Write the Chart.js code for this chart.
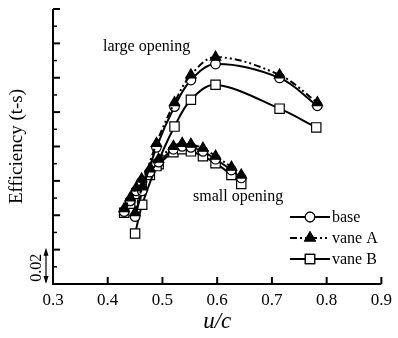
<!DOCTYPE html>
<html>
<head>
<meta charset="utf-8">
<script src="https://cdn.jsdelivr.net/npm/chart.js@4/dist/chart.umd.min.js"></script>
<style>
  html, body { margin: 0; padding: 0; background: #fff; }
  #wrap { width: 398px; height: 338px; }
</style>
</head>
<body>
<div id="wrap"><canvas id="effChart" width="398" height="338"></canvas></div>
<script>
// u/c values
const uLarge = [0.45, 0.463, 0.489, 0.522, 0.552, 0.597, 0.714, 0.783]
const uLargeB = [0.45, 0.463, 0.489, 0.522, 0.552, 0.597, 0.714, 0.781]
const uSmall = [0.430, 0.441, 0.452, 0.462, 0.477, 0.493, 0.520, 0.536, 0.552, 0.574, 0.597, 0.626, 0.644]

// efficiency (relative, 0.02 per major division)
const baseLarge = [0.0392, 0.0542, 0.0795, 0.1032, 0.1187, 0.1280, 0.1199, 0.1037]
const vaneALarge = [0.0415, 0.0565, 0.0818, 0.1055, 0.1216, 0.1320, 0.1216, 0.1055]
const vaneBLarge = [0.0294, 0.0461, 0.0686, 0.0916, 0.1072, 0.1159, 0.1020, 0.0911]

const baseSmall = [0.0421, 0.0484, 0.0542, 0.0594, 0.0651, 0.0709, 0.0784, 0.0801, 0.0795, 0.0772, 0.0726, 0.0663, 0.0617]
const vaneASmall = [0.0438, 0.0501, 0.0559, 0.0611, 0.0669, 0.0726, 0.0801, 0.0818, 0.0813, 0.0790, 0.0744, 0.0680, 0.0634]
const vaneBSmall = [0.0415, 0.0467, 0.0524, 0.0576, 0.0634, 0.0697, 0.0767, 0.0784, 0.0772, 0.0744, 0.0703, 0.0634, 0.0582]

const xTicks = [0.3, 0.4, 0.5, 0.6, 0.7, 0.8, 0.9]
const seriesNames = ["base", "vane A", "vane B"]

const SERIF = "'Liberation Serif', 'Times New Roman', serif"
const pts = (xs, ys) => xs.map((x, i) => ({ x: x, y: ys[i] }))

const styles = {
  "base": { pointStyle: "circle", pointRadius: 4.8, pointBackgroundColor: "#fff", borderDash: [], order: 1 },
  "vane A": { pointStyle: "triangle", pointRadius: 6, pointBackgroundColor: "#000", borderDash: [7, 3, 2, 3, 2, 3], order: 0 },
  "vane B": { pointStyle: "rect", pointRadius: 6.6, pointBackgroundColor: "#fff", borderDash: [], order: 2 },
}

function makeSet(name, xs, ys) {
  const s = styles[name]
  return {
    label: name,
    data: pts(xs, ys),
    showLine: true,
    borderColor: "#000",
    borderWidth: 2,
    borderDash: s.borderDash,
    tension: 0.35,
    pointStyle: s.pointStyle,
    pointRadius: s.pointRadius,
    pointBackgroundColor: s.pointBackgroundColor,
    pointBorderColor: "#000",
    pointBorderWidth: 1.2,
    order: s.order,
  }
}

// axes, ticks, notes and legend
const decor = {
  id: "decor",
  afterDatasetsDraw(chart) {
    const ctx = chart.ctx
    const xs = chart.scales.x
    const ys = chart.scales.y
    const a = chart.chartArea
    ctx.save()
    ctx.strokeStyle = "#000"
    ctx.fillStyle = "#000"
    ctx.lineWidth = 2
    ctx.beginPath()
    ctx.moveTo(a.left, a.top)
    ctx.lineTo(a.left, a.bottom)
    ctx.lineTo(a.right, a.bottom)
    ctx.stroke()

    // y ticks
    for (let v = 0; v <= 0.1601; v += 0.01) {
      const py = ys.getPixelForValue(v)
      const major = Math.round(v * 100) % 2 === 0
      ctx.lineWidth = major ? 2 : 1.5
      ctx.beginPath()
      ctx.moveTo(a.left, py)
      ctx.lineTo(a.left + (major ? 7 : 4), py)
      ctx.stroke()
    }
    // x ticks
    ctx.lineWidth = 2
    xTicks.forEach(v => {
      const px = xs.getPixelForValue(v)
      ctx.beginPath()
      ctx.moveTo(px, a.bottom)
      ctx.lineTo(px, a.bottom - 7)
      ctx.stroke()
    })

    // 0.02 scale bar
    const bx = 46
    const y0 = ys.getPixelForValue(0)
    const y1 = ys.getPixelForValue(0.02)
    ctx.lineWidth = 1.2
    ctx.beginPath()
    ctx.moveTo(bx, y1 + 2)
    ctx.lineTo(bx, y0 - 2)
    ctx.stroke()
    ctx.beginPath()
    ctx.moveTo(bx, y1 - 2); ctx.lineTo(bx - 2.5, y1 + 6); ctx.lineTo(bx + 2.5, y1 + 6); ctx.closePath()
    ctx.moveTo(bx, y0); ctx.lineTo(bx - 2.5, y0 - 8); ctx.lineTo(bx + 2.5, y0 - 8); ctx.closePath()
    ctx.fill()
    ctx.save()
    ctx.translate(37, (y0 + y1) / 2 + 1)
    ctx.rotate(-Math.PI / 2)
    ctx.font = "16px " + SERIF
    ctx.textAlign = "center"
    ctx.textBaseline = "middle"
    ctx.fillText("0.02", 0, 0)
    ctx.restore()

    // notes
    ctx.font = "16px " + SERIF
    ctx.textAlign = "left"
    ctx.textBaseline = "middle"
    ctx.fillText("large opening", 103, 47)
    ctx.fillText("small opening", 193, 197)

    // legend
    const rowY = [217, 238, 259]
    seriesNames.forEach((name, i) => {
      const s = styles[name]
      const y = rowY[i]
      ctx.lineWidth = 2
      ctx.setLineDash(s.borderDash)
      ctx.beginPath()
      ctx.moveTo(290, y)
      ctx.lineTo(330, y)
      ctx.stroke()
      ctx.setLineDash([])
      ctx.fillStyle = s.pointBackgroundColor
      ctx.lineWidth = 1.2
      Chart.helpers.drawPoint(ctx, { pointStyle: s.pointStyle, radius: s.pointRadius, rotation: 0, borderWidth: 1.2 }, 310, y)
      ctx.fill()
      ctx.stroke()
      ctx.fillStyle = "#000"
      ctx.fillText(name, 332, y + 1)
    })
    ctx.restore()
  },
}

new Chart(document.getElementById("effChart"), {
  type: "scatter",
  data: {
    datasets: [
      makeSet("base", uLarge, baseLarge),
      makeSet("vane A", uLarge, vaneALarge),
      makeSet("vane B", uLargeB, vaneBLarge),
      makeSet("base", uSmall, baseSmall),
      makeSet("vane A", uSmall, vaneASmall),
      makeSet("vane B", uSmall, vaneBSmall),
    ],
  },
  options: {
    responsive: false,
    animation: false,
    layout: { padding: { top: 9, right: 12, left: 0, bottom: 0 } },
    plugins: {
      legend: { display: false },
      tooltip: { enabled: false },
    },
    scales: {
      x: {
        type: "linear",
        min: 0.3,
        max: 0.9,
        afterBuildTicks: (scale) => { scale.ticks = xTicks.map(v => ({ value: v })) },
        ticks: {
          callback: (v) => Number(v).toFixed(1),
          font: { family: SERIF, size: 17 },
          color: "#000",
          padding: 6,
          maxRotation: 0,
        },
        grid: { display: false, drawTicks: false },
        border: { display: false },
        title: {
          display: true,
          text: "u/c",
          color: "#000",
          font: { family: SERIF, size: 23, style: "italic" },
          padding: { top: 0, bottom: 2 },
        },
        afterFit: (scale) => { scale.height = 54 },
      },
      y: {
        type: "linear",
        min: 0,
        max: 0.16,
        ticks: { display: false },
        grid: { display: false, drawTicks: false },
        border: { display: false },
        title: {
          display: true,
          text: "Efficiency (t-s)",
          color: "#000",
          font: { family: SERIF, size: 19 },
          padding: { top: 6, bottom: 6 },
        },
        afterFit: (scale) => { scale.width = 53 },
      },
    },
  },
  plugins: [decor],
})
</script>
</body>
</html>
